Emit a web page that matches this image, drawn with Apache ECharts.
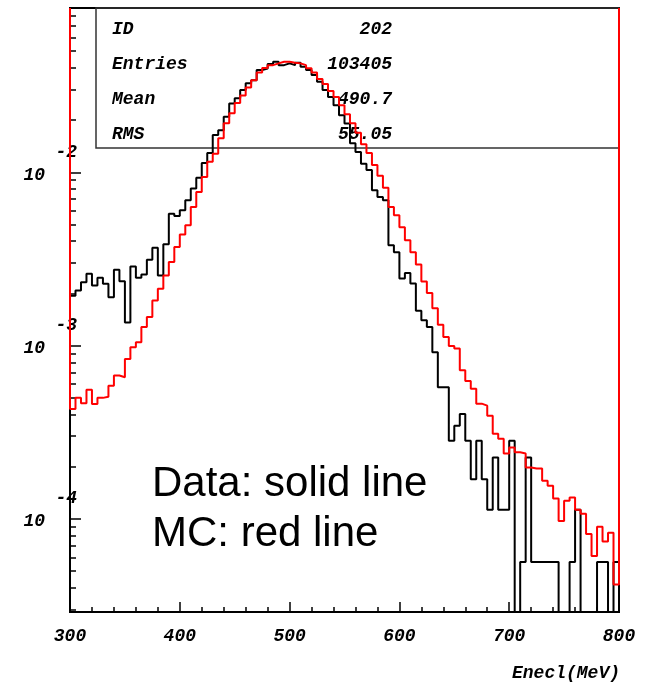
<!DOCTYPE html>
<html>
<head>
<meta charset="utf-8">
<script src="https://cdn.jsdelivr.net/npm/echarts@6/dist/echarts.min.js"></script>
<style>
html,body{margin:0;padding:0;background:#fff;}
#chart{width:648px;height:683px;}
</style>
</head>
<body>
<div id="chart"></div>
<script>
// ---- data (5 MeV bins from 300 to 800 MeV) ----
const binStart = 300;
const binWidth = 5;
const dataHist = [
  1.94e-3, 2.08e-3, 2.32e-3, 2.60e-3, 2.22e-3, 2.46e-3, 2.27e-3, 1.90e-3, 2.74e-3, 2.35e-3,
  1.36e-3, 2.86e-3, 2.46e-3, 2.57e-3, 3.13e-3, 3.67e-3, 2.54e-3, 3.84e-3, 5.77e-3, 5.60e-3,
  6.03e-3, 6.90e-3, 8.05e-3, 9.31e-3, 1.13e-2, 1.29e-2, 1.64e-2, 1.75e-2, 2.09e-2, 2.49e-2,
  2.67e-2, 2.98e-2, 3.26e-2, 3.40e-2, 3.89e-2, 3.97e-2, 4.21e-2, 4.34e-2, 4.15e-2, 4.25e-2,
  4.15e-2, 4.28e-2, 4.06e-2, 3.89e-2, 3.64e-2, 3.33e-2, 2.98e-2, 2.72e-2, 2.44e-2, 2.13e-2,
  1.91e-2, 1.47e-2, 1.31e-2, 1.12e-2, 1.03e-2, 7.87e-3, 7.20e-3, 6.89e-3, 3.79e-3, 3.46e-3,
  2.44e-3, 2.62e-3, 2.28e-3, 1.59e-3, 1.40e-3, 1.28e-3, 9.14e-4, 5.74e-4, 5.74e-4, 2.82e-4,
  3.45e-4, 4.03e-4, 2.82e-4, 1.69e-4, 2.82e-4, 1.69e-4, 1.13e-4, 2.26e-4, 1.13e-4, 1.13e-4,
  2.82e-4, 0, 5.64e-5, 2.26e-4, 5.64e-5, 5.64e-5, 5.64e-5, 5.64e-5, 5.64e-5, 0,
  0, 5.64e-5, 1.13e-4, 0, 0, 0, 5.64e-5, 5.64e-5, 0, 5.64e-5
];
const mcHist = [
  4.31e-4, 4.99e-4, 4.64e-4, 5.55e-4, 4.60e-4, 4.99e-4, 5.07e-4, 5.87e-4, 6.71e-4, 6.56e-4,
  8.37e-4, 9.77e-4, 1.045e-3, 1.28e-3, 1.46e-3, 1.82e-3, 2.13e-3, 2.54e-3, 3.03e-3, 3.70e-3,
  4.38e-3, 4.94e-3, 6.30e-3, 7.69e-3, 9.40e-3, 1.15e-2, 1.28e-2, 1.57e-2, 1.92e-2, 2.19e-2,
  2.51e-2, 2.77e-2, 3.08e-2, 3.40e-2, 3.76e-2, 3.99e-2, 4.15e-2, 4.25e-2, 4.34e-2, 4.34e-2,
  4.28e-2, 4.25e-2, 4.15e-2, 3.98e-2, 3.76e-2, 3.45e-2, 3.23e-2, 2.94e-2, 2.72e-2, 2.44e-2,
  2.16e-2, 1.92e-2, 1.69e-2, 1.45e-2, 1.29e-2, 1.10e-2, 9.55e-3, 8.13e-3, 6.30e-3, 5.64e-3,
  4.81e-3, 4.05e-3, 3.45e-3, 2.94e-3, 2.34e-3, 2.01e-3, 1.64e-3, 1.32e-3, 1.12e-3, 9.93e-4,
  9.61e-4, 7.21e-4, 6.24e-4, 5.64e-4, 4.62e-4, 4.50e-4, 3.94e-4, 3.10e-4, 2.90e-4, 2.38e-4,
  2.58e-4, 2.42e-4, 2.38e-4, 1.98e-4, 1.95e-4, 1.95e-4, 1.66e-4, 1.55e-4, 1.31e-4, 9.73e-5,
  1.27e-4, 1.33e-4, 1.13e-4, 1.07e-4, 8.18e-5, 6.11e-5, 9.00e-5, 7.41e-5, 8.30e-5, 4.18e-5
];
const xTickLabels = ['300', '400', '500', '600', '700', '800'];
const yDecades = [-4, -3, -2];
const statLabels = ['ID', 'Entries', 'Mean', 'RMS'];
const statValues = ['202', '103405', '490.7', '55.05'];
const xTitle = 'Enecl(MeV)';
const noteLines = ['Data: solid line', 'MC: red line'];

// axis ranges
const X_MIN = 300, X_MAX = 800;
const Y_MIN = 2.9e-5, Y_MAX = 0.0887;

// ---- build step series ----
function stepPoints(vals, closeTop) {
  const pts = [];
  if (closeTop) pts.push([X_MIN, Y_MAX]);
  vals.forEach((v, i) => pts.push([binStart + i * binWidth, v > 0 ? v : Y_MIN]));
  const last = vals[vals.length - 1];
  pts.push([binStart + vals.length * binWidth, last > 0 ? last : Y_MIN]);
  if (closeTop) pts.push([X_MAX, Y_MAX]);
  return pts;
}

const lmin = Math.log10(Y_MIN), lmax = Math.log10(Y_MAX);
const minorVals = [];
for (let n = -5; n <= -1; n++) {
  for (let k = 2; k <= 9; k++) {
    const v = n + Math.log10(k);
    if (v > lmin && v < lmax) minorVals.push(v);
  }
}

const monoFont = '"Liberation Mono", "Courier New", monospace';
const statText = [];
statLabels.forEach((s, i) => {
  statText.push({
    type: 'text', left: 112, top: 30 + i * 35 - 10, z: 1,
    style: { text: s, font: 'italic bold 18px ' + monoFont, fill: '#000' }
  });
  statText.push({
    type: 'text', right: 648 - 392, top: 30 + i * 35 - 10, z: 1,
    style: { text: statValues[i], font: 'italic bold 18px ' + monoFont, fill: '#000', textAlign: 'right' }
  });
});

const chart = echarts.init(document.getElementById('chart'), null, { renderer: 'canvas' });
chart.setOption({
  animation: false,
  backgroundColor: '#fff',
  grid: { left: 70, top: 8, right: 29, bottom: 71, show: true, borderColor: '#000', borderWidth: 2, containLabel: false },
  xAxis: [{
    type: 'value', min: X_MIN, max: X_MAX, interval: 100,
    axisLine: { show: true, lineStyle: { color: '#000', width: 2 } },
    axisTick: { show: true, inside: true, length: 10, lineStyle: { color: '#000', width: 1.5 } },
    minorTick: { show: true, splitNumber: 5, length: 5, lineStyle: { color: '#000', width: 1.5 } },
    splitLine: { show: false },
    axisLabel: {
      margin: 15, color: '#000', fontFamily: monoFont, fontSize: 18, fontStyle: 'italic', fontWeight: 'bold',
      formatter: (v) => xTickLabels[Math.round((v - X_MIN) / 100)] || ''
    }
  }],
  yAxis: [{
    type: 'log', logBase: 10, min: Y_MIN, max: Y_MAX,
    axisLine: { show: true, lineStyle: { color: '#000', width: 2 } },
    axisTick: { show: false }, axisLabel: { show: false }, splitLine: { show: false }
  }, {
    type: 'value', min: lmin, max: lmax, position: 'left',
    axisLine: { show: false }, splitLine: { show: false },
    axisTick: { show: true, inside: true, length: 11, customValues: yDecades, lineStyle: { color: '#000', width: 1.5 } },
    axisLabel: {
      show: true, customValues: yDecades, margin: -7,
      formatter: (v) => '{e|' + Math.round(v) + '}\n{b|10}',
      rich: {
        e: { fontFamily: monoFont, fontSize: 18, fontStyle: 'italic', fontWeight: 'bold', color: '#000', lineHeight: 6, align: 'right' },
        b: { fontFamily: monoFont, fontSize: 18, fontStyle: 'italic', fontWeight: 'bold', color: '#000', lineHeight: 40, align: 'right', padding: [0, 32, 0, 0] }
      }
    }
  }, {
    type: 'value', min: lmin, max: lmax, position: 'left',
    axisLine: { show: false }, splitLine: { show: false }, axisLabel: { show: false },
    axisTick: { show: true, inside: true, length: 6, customValues: minorVals, lineStyle: { color: '#000', width: 1.5 } }
  }],
  graphic: [
    { type: 'rect', z: 0, shape: { x: 96, y: 8, width: 523, height: 140 }, style: { fill: null, stroke: '#333', lineWidth: 1.5 } },
    ...statText,
    { type: 'text', right: 648 - 620, top: 664, style: { text: xTitle, font: 'italic bold 18px ' + monoFont, fill: '#000', textAlign: 'right' } },
    { type: 'text', left: 152, top: 463, style: { text: noteLines[0], font: '42px "Liberation Sans", Arial, sans-serif', fill: '#000' } },
    { type: 'text', left: 152, top: 513, style: { text: noteLines[1], font: '42px "Liberation Sans", Arial, sans-serif', fill: '#000' } }
  ],
  series: [{
    name: 'Data', type: 'line', xAxisIndex: 0, yAxisIndex: 0, step: 'end', showSymbol: false, symbol: 'none',
    data: stepPoints(dataHist, false), lineStyle: { color: '#000', width: 2 }, z: 3
  }, {
    name: 'MC', type: 'line', xAxisIndex: 0, yAxisIndex: 0, step: 'end', showSymbol: false, symbol: 'none',
    data: stepPoints(mcHist, true), lineStyle: { color: '#ff0000', width: 2 }, z: 4
  }]
});
</script>
</body>
</html>
